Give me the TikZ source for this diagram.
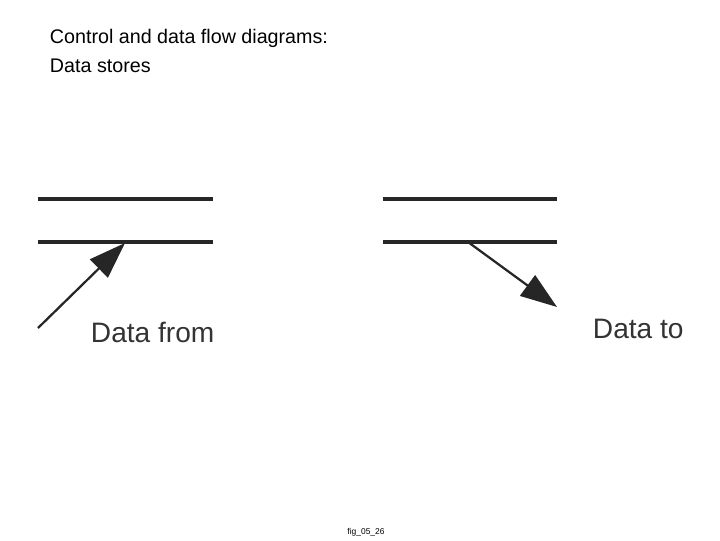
\documentclass[tikz,border=0pt]{standalone}
\usepackage{fontspec}
\setmainfont{Liberation Sans}
\usetikzlibrary{arrows.meta}
\tikzset{%
	store line/.style={line width=2.5pt, draw=black!85},
	flow/.style={line width=1.6pt, draw=black!85, -{Triangle[length=26pt,width=18pt]}},
	flow label/.style={font=\fontsize{20}{24}\selectfont, text=black!80, anchor=west},
}
\begin{document}
\begin{tikzpicture}[x=0.025cm, y=-0.025cm]
	\useasboundingbox (0,0) rectangle (720,540);
	
	\node [anchor=north west, align=left, font=\fontsize{14}{21}\selectfont] (title) at (45,24)
	{Control and data flow diagrams:\\Data stores};
	
	% left store
	\foreach \n/\y in {top/199,bot/242} {
		\coordinate (in-\n-a) at (38,\y);
		\coordinate (in-\n-b) at (213,\y);
		\draw [store line] (in-\n-a) -- (in-\n-b);
	}
	\coordinate (in-start) at (38,328);
	\coordinate (in-end) at (125,243);
	\draw [flow] (in-start) -- (in-end);
	\node [flow label] (in-label) at (86,332) {Data from};
	
	% right store
	\foreach \n/\y in {top/199,bot/242} {
		\coordinate (out-\n-a) at (383,\y);
		\coordinate (out-\n-b) at (557,\y);
		\draw [store line] (out-\n-a) -- (out-\n-b);
	}
	\coordinate (out-start) at (468,242);
	\coordinate (out-end) at (557,307);
	\draw [flow] (out-start) -- (out-end);
	\node [flow label] (out-label) at (588,329) {Data to};
	
	\node [font=\fontsize{6}{7}\selectfont] (fig) at (366,532) {fig\_05\_26};
	
\end{tikzpicture}
\end{document}
